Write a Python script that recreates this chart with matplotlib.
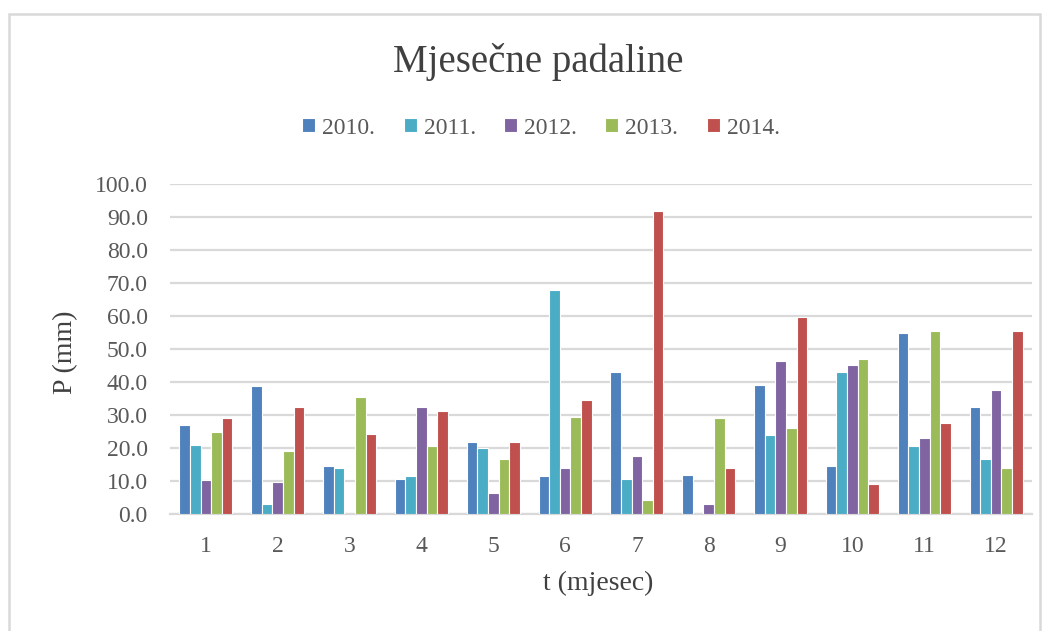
import matplotlib
matplotlib.use('Agg')
import matplotlib.pyplot as plt
import numpy as np
from matplotlib.patches import Rectangle

months = [str(m) for m in range(1, 13)]
years = ['2010.', '2011.', '2012.', '2013.', '2014.']
p_2010 = [26.9, 38.8, 14.5, 10.6, 21.7, 11.5, 43.0, 11.9, 39.2, 14.5, 55.0, 32.4]
p_2011 = [20.9, 3.0, 14.0, 11.5, 20.0, 67.8, 10.6, 0.0, 23.8, 43.1, 20.5, 16.6]
p_2012 = [10.2, 9.8, 0.0, 32.4, 6.4, 14.0, 17.5, 2.9, 46.5, 45.2, 23.1, 37.6]
p_2013 = [24.7, 19.2, 35.4, 20.5, 16.6, 29.4, 4.1, 29.0, 26.1, 47.0, 55.5, 14.0]
p_2014 = [29.0, 32.4, 24.2, 31.1, 21.7, 34.5, 91.7, 14.0, 59.8, 9.0, 27.7, 55.5]
series = [p_2010, p_2011, p_2012, p_2013, p_2014]
colors = ['#4f81bd', '#4bacc6', '#8064a2', '#9bbb59', '#c0504d']

plt.rcParams['font.family'] = ['Liberation Serif', 'DejaVu Serif']

W, H = 1051, 631
fig = plt.figure(figsize=(W / 100, H / 100), dpi=100)
ax = fig.add_axes([170 / W, 1 - 514 / H, (1032 - 170) / W, (514 - 184) / H])

# outer chart border
fig.patches.append(Rectangle((9 / W, -0.01), 1031 / W, 1 - 14 / H + 0.01,
                             transform=fig.transFigure, fill=False,
                             edgecolor='#d9d9d9', linewidth=1.8))

x = np.arange(len(months))
bw = 0.148
for i, (vals, c, lab) in enumerate(zip(series, colors, years)):
    ax.bar(x + (i - 2) * bw, vals, width=bw, color=c, edgecolor='white',
           linewidth=0.8, label=lab, zorder=3)

ax.set_ylim(0, 100)
ax.set_xlim(-0.5, 11.5)
ax.set_yticks(np.arange(0, 101, 10))
ax.set_yticklabels([f'{v:.1f}' for v in np.arange(0, 101, 10)])
ax.set_xticks(x)
ax.set_xticklabels(months)
ax.yaxis.grid(True, color='#d9d9d9', linewidth=1.6, zorder=0)
for s in ['top', 'right', 'left']:
    ax.spines[s].set_visible(False)
ax.spines['bottom'].set_color('#d9d9d9')
ax.spines['bottom'].set_linewidth(1.6)
ax.tick_params(axis='both', length=0, labelsize=17, colors='#595959')
ax.tick_params(axis='y', pad=16)
ax.tick_params(axis='x', pad=16)

fig.text(66 / W, 1 - 352 / H, 'P (mm)', rotation=90, ha='center', va='center',
         fontsize=20, color='#404040')
fig.text(598 / W, 1 - 583 / H, 't (mjesec)', ha='center', va='center',
         fontsize=20, color='#404040')

fig.text(538 / W, 1 - 62 / H, 'Mjesečne padaline', ha='center', va='center',
         fontsize=28, color='#404040')
fig.legend(loc='center', bbox_to_anchor=(541 / W, 1 - 128 / H), ncol=5,
           frameon=False, fontsize=17, handlelength=0.55, handleheight=0.55,
           handletextpad=0.3, columnspacing=1.2, labelcolor='#595959')

fig.savefig('out.png', dpi=100)
